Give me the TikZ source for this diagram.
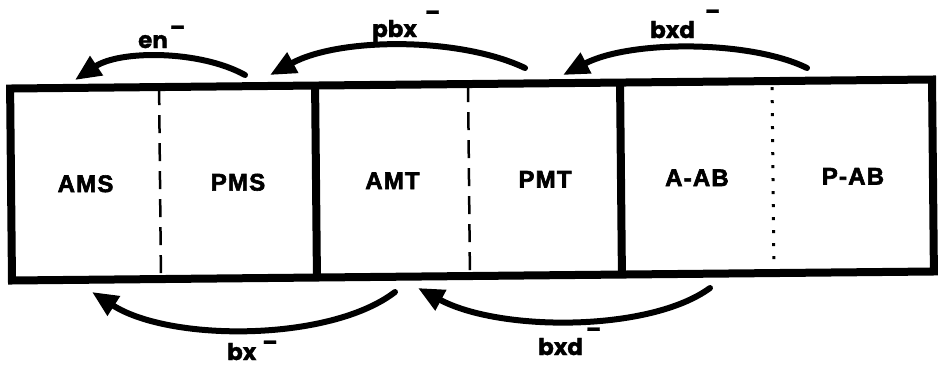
\documentclass[tikz,border=0pt]{standalone}
\usepackage{fontspec}
\usetikzlibrary{arrows.meta}
\newfontfamily\cellfont{Liberation Sans}[UprightFont={* Bold}, LetterSpace=5, FakeBold=2.5]
\newfontfamily\flowfont{Poppins}[FakeBold=1.2]
% raised minus sign after a transport label: #1 = gap, #2 = raise
\newcommand\charge[2]{\kern#1\raisebox{#2}{\fontsize{22}{22}\selectfont –}}

\begin{document}
\begin{tikzpicture}[x=1pt,y=-1pt,
  frame/.style={line width=8pt},
  soft/.style={line width=2.5pt, dash pattern=on 18pt off 10pt},
  dotline/.style={line width=3pt, dash pattern=on 3pt off 10pt},
  cell/.style={font=\cellfont\fontsize{24}{24}\selectfont, inner sep=0pt},
  flow/.style={line width=6pt, line cap=round, -{Triangle[length=26pt,width=22pt]}},
  tag/.style={font=\flowfont\bfseries\fontsize{23}{23}\selectfont, inner sep=0pt, anchor=base west}]
\useasboundingbox (0,0) rectangle (939,381);
\fill[white] (0,0) rectangle (939,381);

% the segmented strip, slightly tilted
\begin{scope}[rotate around={0.56:(472,180)}]
  \draw[frame] (11,84) rectangle (933,276);
  \draw[frame] (316,84) -- (316,276);
  \draw[frame] (621,84) -- (621,276);
  \draw[soft] (160,84) -- (160,276);
  \draw[soft] (469,84) -- (469,276);
  \draw[dotline] (773,90) -- (773,276);
  \node[cell] (ams) at (85.5,180) {AMS};
  \node[cell] (pms) at (238,180) {PMS};
  \node[cell] (amt) at (392.5,180) {AMT};
  \node[cell] (pmt) at (545,180) {PMT};
  \node[cell] (aab) at (697,180) {A-AB};
  \node[cell] (pab) at (853,180) {P-AB};
\end{scope}

% end points of the transport arrows
\coordinate (enS) at (245,75);   \coordinate (enT) at (75,80);
\coordinate (pbS) at (525,68);   \coordinate (pbT) at (270,75);
\coordinate (btS) at (807,68);   \coordinate (btT) at (563,75);
\coordinate (bxS) at (395,292);  \coordinate (bxT) at (92,292);
\coordinate (bbS) at (710,288);  \coordinate (bbT) at (418,288);

\draw[flow] (enS) .. controls (200,50) and (120,50) .. (enT);
\draw[flow] (pbS) .. controls (460,37) and (340,37) .. (pbT);
\draw[flow] (btS) .. controls (750,40) and (630,40) .. (btT);
\draw[flow] (bxS) .. controls (330,342) and (170,342) .. (bxT);
\draw[flow] (bbS) .. controls (650,332) and (500,332) .. (bbT);

\node[tag] (en)  at (138,48)  {en\charge{2pt}{13pt}};
\node[tag] (pbx) at (372,37)  {pbx\charge{8pt}{17pt}};
\node[tag] (bxt) at (650,38)  {bxd\charge{10pt}{19pt}};
\node[tag] (bx)  at (227,360) {bx\charge{6pt}{10pt}};
\node[tag] (bxb) at (538,355) {bxd\charge{3pt}{18pt}};
\end{tikzpicture}
\end{document}
